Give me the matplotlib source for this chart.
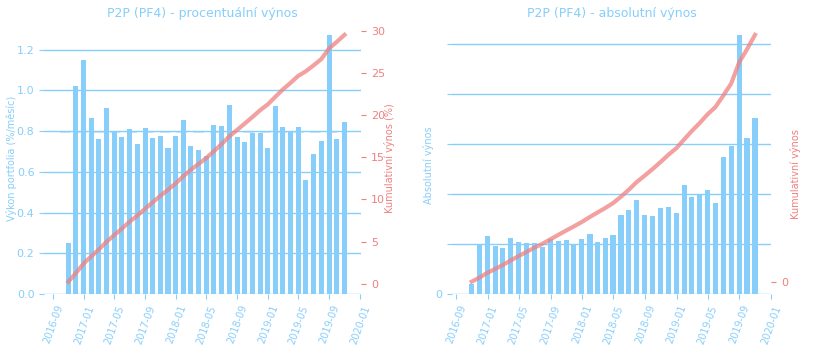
import numpy as np
import pandas as pd
import matplotlib
matplotlib.use('Agg')
import matplotlib.pyplot as plt
import matplotlib.dates as mdates
from matplotlib.ticker import FuncFormatter

#--- mesicni data (konec mesice)
months = pd.date_range('2016-10-31', periods=37, freq='ME')

#--- procentualni vynos (%/mesic)
pct_return = [0.25, 1.02, 1.15, 0.865, 0.76, 0.915, 0.80, 0.77, 0.81, 0.735,
              0.815, 0.765, 0.775, 0.715, 0.775, 0.855, 0.725, 0.705, 0.68, 0.83,
              0.825, 0.93, 0.77, 0.745, 0.79, 0.79, 0.715, 0.925, 0.82, 0.795,
              0.82, 0.56, 0.69, 0.75, 1.27, 0.76, 0.845]

#--- absolutni vynos (Kc)
abs_return = [200, 1000, 1160, 960, 920, 1120, 1040, 1020, 1020, 940,
              1100, 1060, 1080, 1000, 1100, 1200, 1040, 1120, 1180, 1580,
              1680, 1880, 1580, 1560, 1720, 1740, 1620, 2180, 1940, 1980,
              2080, 1820, 2740, 2970, 5180, 3120, 3520]

BLUE = '#87CEFA'
RED = '#F08080'
PALE = '#d2e8f0'

pct_cum = np.cumsum(pct_return)
abs_cum = np.cumsum(abs_return)

fig = plt.figure(figsize=(8.18, 3.51), dpi=100)
ax1 = fig.add_axes([0.054, 0.1624, 0.3875, 0.7735])
ax3 = fig.add_axes([0.5526, 0.1624, 0.39, 0.7735])
bar_w = 20


def style_left(ax):
    for s in ax.spines.values():
        s.set_visible(False)
    ax.grid(axis='y', color=BLUE, linewidth=1)
    ax.set_axisbelow(True)
    ax.tick_params(axis='y', colors=BLUE, labelsize=8)
    ax.tick_params(axis='x', colors=BLUE, labelsize=7)
    ax.xaxis.set_major_locator(mdates.MonthLocator(bymonth=[1, 5, 9]))
    ax.xaxis.set_major_formatter(mdates.DateFormatter('%Y-%m'))
    for lbl in ax.get_xticklabels():
        lbl.set_rotation(70)
        lbl.set_ha('center')


def style_right(ax):
    for s in ax.spines.values():
        s.set_visible(False)
    ax.tick_params(axis='y', colors=RED, labelsize=8)


#--- procentualni vynos
ax1.axhline(np.mean(pct_return), xmin=0.05, xmax=0.95, color=PALE,
            linewidth=1.5, linestyle=(0, (5, 3)), zorder=0.5)
ax1.bar(months, pct_return, width=bar_w, color=BLUE, zorder=2)
style_left(ax1)
ax1.set_xlim(pd.Timestamp('2016-07-27'), pd.Timestamp('2020-01-05'))
ax1.set_ylabel('Výkon portfolia (%/měsíc)', color=BLUE, fontsize=7)
ax1.yaxis.set_label_coords(-0.087, 0.5)
ax1.set_title('P2P (PF4) - procentuální výnos', color=BLUE, fontsize=9, pad=4)
ax2 = ax1.twinx()
ax2.plot(months, pct_cum, color=RED, linewidth=3, alpha=0.75)
style_right(ax2)
ax2.set_yticks([0, 5, 10, 15, 20, 25, 30])
ax2.set_ylabel('Kumulativní výnos (%)', color=RED, fontsize=7)
ax2.yaxis.set_label_coords(1.0726, 0.5)

#--- absolutni vynos
ax3.bar(months, abs_return, width=bar_w, color=BLUE, zorder=2)
style_left(ax3)
ax3.set_xlim(pd.Timestamp('2016-08-16'), pd.Timestamp('2020-01-01'))
ax3.set_yticks([0, 1000, 2000, 3000, 4000, 5000])
ax3.yaxis.set_major_formatter(FuncFormatter(lambda v, p: '0' if v == 0 else ''))
ax3.set_ylabel('Absolutní výnos', color=BLUE, fontsize=7)
ax3.yaxis.set_label_coords(-0.056, 0.475)
ax3.set_title('P2P (PF4) - absolutní výnos', color=BLUE, fontsize=9, pad=4)
ax4 = ax3.twinx()
ax4.plot(months, abs_cum, color=RED, linewidth=3, alpha=0.75)
style_right(ax4)
ax4.set_yticks([0])
ax4.set_ylabel('Kumulativní výnos', color=RED, fontsize=7)
ax4.yaxis.set_label_coords(1.0596, 0.442)

fig.savefig('out.png', dpi=100)
